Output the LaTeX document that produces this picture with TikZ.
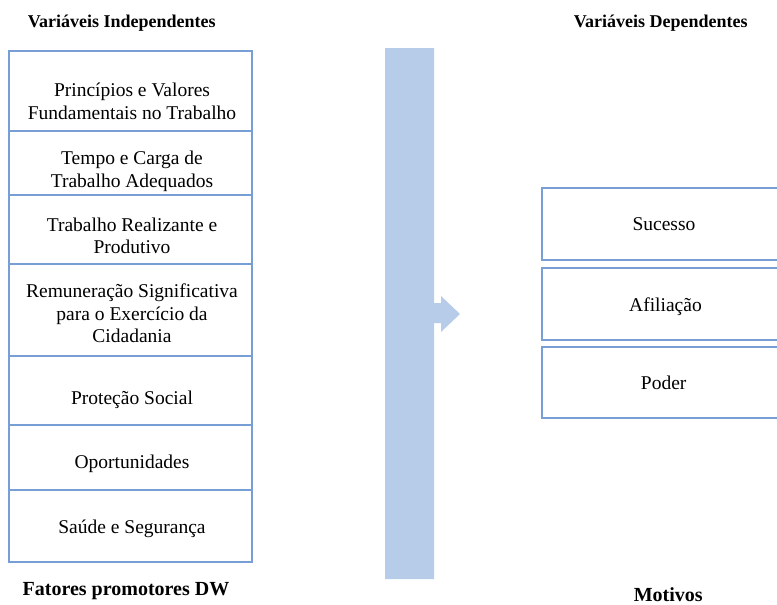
\documentclass[tikz,border=0pt]{standalone}
\usepackage{fontspec}
\setmainfont{Liberation Serif}
\definecolor{boxblue}{RGB}{120,158,214}
\definecolor{barblue}{RGB}{183,204,232}
\tikzset{
  cell/.style={draw=boxblue, line width=1.4pt, inner sep=0pt, minimum width=243pt},
  rcell/.style={draw=boxblue, line width=1.4pt, inner sep=0pt, minimum width=244pt},
  txt/.style={anchor=base, inner sep=0pt, font=\fontsize{19.5}{22.7}\selectfont},
  hdr/.style={anchor=base, inner sep=0pt, font=\fontsize{18}{21}\selectfont\bfseries},
  ftr/.style={anchor=base, inner sep=0pt, font=\fontsize{20}{23}\selectfont\bfseries},
}
\newcommand{\ml}[1]{\begin{tabular}[t]{@{}c@{}}#1\end{tabular}}
\begin{document}
\begin{tikzpicture}[x=1pt,y=-1pt]
\path[use as bounding box] (0,0) rectangle (777,605);
\begin{scope}
\clip (0,0) rectangle (777,605);
% headers and footers
\node[hdr] (vi) at (121.7,27.3) {Variáveis Independentes};
\node[hdr] (vd) at (660.8,27.3) {Variáveis Dependentes};
\node[ftr] (fp) at (126,595.5) {Fatores promotores DW};
\node[ftr] (mo) at (668.3,601) {Motivos};
% left boxes
\node[cell, minimum height=80pt] (b1) at (130.5,91) {};
\node[cell, minimum height=64pt] (b2) at (130.5,163) {};
\node[cell, minimum height=69pt] (b3) at (130.5,229.5) {};
\node[cell, minimum height=92pt] (b4) at (130.5,310) {};
\node[cell, minimum height=69pt] (b5) at (130.5,390.5) {};
\node[cell, minimum height=65pt] (b6) at (130.5,457.5) {};
\node[cell, minimum height=72pt] (b7) at (130.5,526) {};
\node[txt] (t1) at (132,96.7) {\ml{Princípios e Valores\\Fundamentais no Trabalho}};
\node[txt] (t2) at (132,164.3) {\ml{Tempo e Carga de\\Trabalho Adequados}};
\node[txt] (t3) at (132,231) {\ml{Trabalho Realizante e\\Produtivo}};
\node[txt] (t4) at (132,297.3) {\ml{Remuneração Significativa\\para o Exercício da\\Cidadania}};
\node[txt] (t5) at (132,404) {Proteção Social};
\node[txt] (t6) at (132,468.3) {Oportunidades};
\node[txt] (t7) at (132,533.3) {Saúde e Segurança};
% central bar with arrow
\fill[barblue] (385,48) -- (434,48) -- (434,303) -- (441,303) -- (441,296)
  -- (460,314) -- (441,332) -- (441,323) -- (434,323) -- (434,579) -- (385,579) -- cycle;
% right boxes
\node[rcell, minimum height=72pt] (r1) at (664,224) {};
\node[rcell, minimum height=72pt] (r2) at (664,304) {};
\node[rcell, minimum height=71pt] (r3) at (664,382.5) {};
\node[txt] (s1) at (664,230) {Sucesso};
\node[txt] (s2) at (665.5,311.7) {Afiliação};
\node[txt] (s3) at (663.7,389.3) {Poder};
\end{scope}
\end{tikzpicture}
\end{document}
